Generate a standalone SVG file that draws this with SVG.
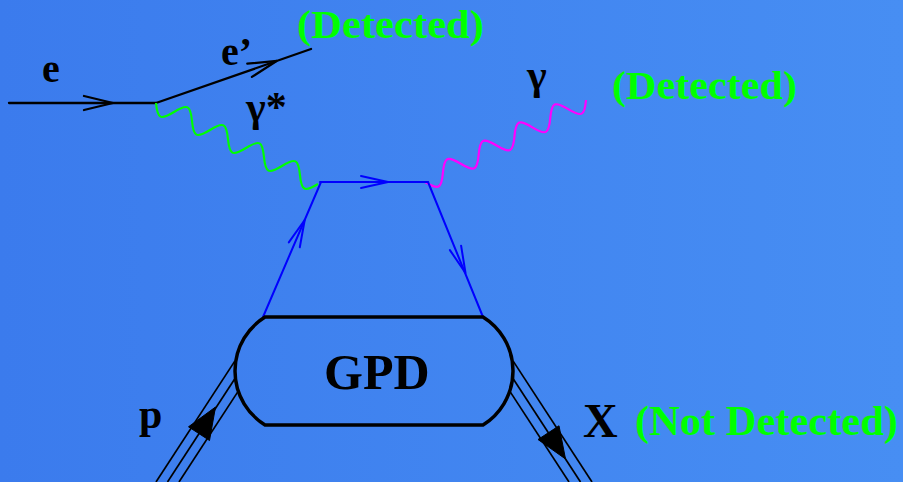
<svg xmlns="http://www.w3.org/2000/svg" width="903" height="482" viewBox="0 0 903 482">
<defs>
<linearGradient id="bg" x1="0" y1="0" x2="903" y2="0" gradientUnits="userSpaceOnUse">
<stop offset="0" stop-color="#3b7bed"/>
<stop offset="1" stop-color="#478ef3"/>
</linearGradient>
<path id="wave" d="M0,0 c8.54,13.6 11.58,13.6 20.12,0 s11.58,-13.6 20.12,0 s11.58,13.6 20.12,0 s11.58,-13.6 20.12,0 s11.58,13.6 20.12,0 s11.58,-13.6 20.12,0 s11.58,13.6 20.12,0 s11.58,-13.6 20.12,0 s11.58,13.6 20.12,0"/>
</defs>
<style>
.el{stroke:#000;stroke-width:2.3;fill:none;stroke-linecap:round}
.q{stroke:#0000ff;stroke-width:2;fill:none;stroke-linecap:round;stroke-linejoin:round}
.ph{fill:none;stroke-width:2.2}
.had{stroke:#000;stroke-width:1.7;fill:none}
.blob{stroke:#000;stroke-width:3.5;fill:none}
.arr{fill:#000;stroke:#000;stroke-width:1}
.t{font-family:"Liberation Serif","Times New Roman",serif;font-weight:bold;fill:#000}
.g{font-family:"Liberation Serif","Times New Roman",serif;font-weight:bold;fill:#000}
.d{font-family:"Liberation Serif","Times New Roman",serif;font-weight:bold;fill:#00ff00}
</style>
<rect x="0" y="0" width="903" height="482" fill="url(#bg)"/>

<g id="connectors">
  <g id="electron-in">
    <line class="el" x1="9" y1="103" x2="156" y2="103"/>
    <polyline class="el" points="84,96 113,103 84,110"/>
  </g>
  <g id="electron-out">
    <line class="el" x1="156" y1="103" x2="311" y2="49"/>
    <polyline class="el" points="247.3,63.7 277,60.8 251.9,76.9"/>
  </g>
  <g id="virtual-photon">
    <use href="#wave" class="ph" stroke="#00ff00" transform="translate(156,103) rotate(26.565)"/>
  </g>
  <g id="real-photon">
    <use href="#wave" class="ph" stroke="#ff00ff" transform="translate(425,182) rotate(-26.99) scale(0.998,1)"/>
  </g>
  <g id="quark-lines">
    <line class="q" x1="320" y1="182" x2="428" y2="182"/>
    <polyline class="q" points="361,176 388,182 361,188"/>
    <line class="q" x1="263" y1="317" x2="321" y2="182"/>
    <polyline class="q" points="288.8,242.4 304.7,220 299.8,247.2"/>
    <line class="q" x1="428" y1="182" x2="483" y2="317"/>
    <polyline class="q" points="449.9,250.1 465.5,273 461.1,245.7"/>
  </g>
  <g id="proton-lines">
    <line class="had" x1="156" y1="482" x2="234.8" y2="361.1"/>
    <line class="had" x1="167.5" y1="482" x2="234.5" y2="379.2"/>
    <line class="had" x1="179" y1="482" x2="237.6" y2="392.1"/>
    <polygon class="arr" points="215.5,407 209.5,440.5 188.5,426.8"/>
  </g>
  <g id="x-lines">
    <line class="had" x1="592" y1="482" x2="513.2" y2="361.1"/>
    <line class="had" x1="580.5" y1="482" x2="513.5" y2="379.2"/>
    <line class="had" x1="569" y1="482" x2="510.4" y2="392.1"/>
    <polygon class="arr" points="565.5,459 559,425.8 538,439.5"/>
  </g>
</g>

<g id="gpd">
  <path class="blob" d="M265,317 H483 A63.6,63.6 0 0 1 483,425 H265 A63.6,63.6 0 0 1 265,317 Z"/>
  <text class="t" x="324" y="389" font-size="50">GPD</text>
</g>

<g id="labels">
  <text class="t" x="42" y="82" font-size="40">e</text>
  <text class="t" x="221" y="65" font-size="40">e’</text>
  <text class="g" x="246" y="121" font-size="42">γ*</text>
  <text class="g" x="527" y="89" font-size="42">γ</text>
  <text class="d" x="297" y="38" font-size="41" textLength="187" lengthAdjust="spacingAndGlyphs">(Detected)</text>
  <text class="d" x="612" y="99" font-size="41" textLength="185" lengthAdjust="spacingAndGlyphs">(Detected)</text>
  <text class="t" x="139" y="428" font-size="42">p</text>
  <text class="t" x="583" y="437" font-size="48">X</text>
  <text class="d" x="635" y="435" font-size="42" textLength="263" lengthAdjust="spacingAndGlyphs">(Not Detected)</text>
</g>
</svg>
